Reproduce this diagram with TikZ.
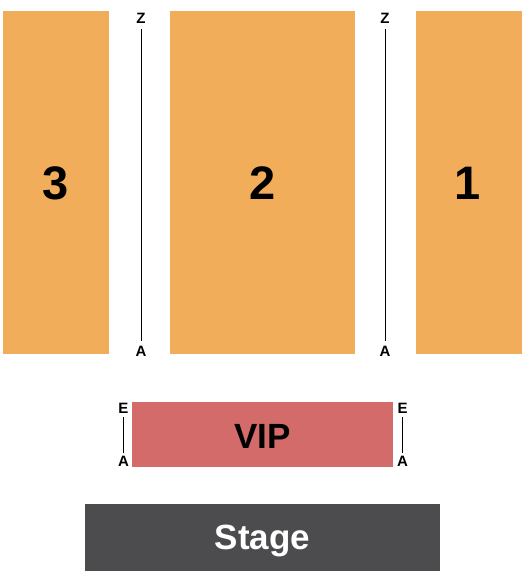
\documentclass[tikz,border=0pt]{standalone}
\usepackage{fontspec}
\setmainfont{Liberation Sans}
\definecolor{secorange}{HTML}{F2AD5B}
\definecolor{vipred}{HTML}{D46B6B}
\definecolor{stagegray}{HTML}{4C4B4E}
\begin{document}
\begin{tikzpicture}[x=1pt,y=-1pt,
  section/.style={fill=secorange,draw=none},
  secnum/.style={font=\bfseries\fontsize{47}{47}\selectfont,text=black},
  rowlbl/.style={font=\bfseries\fontsize{15}{15}\selectfont,text=black,inner sep=0pt},
  aisle/.style={draw=black,line width=0.8pt}]
\useasboundingbox (0,0) rectangle (525,580);
% sections
\fill[section] (3,11) rectangle (109,354);
\fill[section] (170,11) rectangle (355,354);
\fill[section] (416,11) rectangle (522,354);
\node[secnum] (s3) at (56,183) {3};
\node[secnum] (s2) at (263,183) {2};
\node[secnum] (s1) at (468,183) {1};
% aisle row labels
\node[rowlbl] (lz) at (141,18.5) {Z};
\node[rowlbl] (la) at (141,351) {A};
\node[rowlbl] (rz) at (385,18.5) {Z};
\node[rowlbl] (ra) at (385,351) {A};
\draw[aisle] (lz.south) ++(0,5) coordinate (lzt) (la.north) ++(0,-5) coordinate (lab);
\draw[aisle] (lzt) -- (lab);
\draw[aisle] (rz.south) ++(0,5) coordinate (rzt) (ra.north) ++(0,-5) coordinate (rab);
\draw[aisle] (rzt) -- (rab);
% VIP
\fill[vipred] (132,402) rectangle (393,467);
\node[font=\bfseries\fontsize{35}{35}\selectfont] (vip) at (262.5,436) {VIP};
\node[rowlbl] (ve1) at (123.5,408) {E};
\node[rowlbl] (va1) at (123.5,461.5) {A};
\node[rowlbl] (ve2) at (402.5,408) {E};
\node[rowlbl] (va2) at (402.5,461.5) {A};
\draw[aisle] (ve1.south) ++(0,4) coordinate (ve1b) (va1.north) ++(0,-3) coordinate (va1t);
\draw[aisle] (ve1b) -- (va1t);
\draw[aisle] (ve2.south) ++(0,4) coordinate (ve2b) (va2.north) ++(0,-3) coordinate (va2t);
\draw[aisle] (ve2b) -- (va2t);
% Stage
\fill[stagegray] (85,504) rectangle (440,571);
\node[font=\bfseries\fontsize{35}{35}\selectfont,text=white] (stage) at (262.5,541) {Stage};
\end{tikzpicture}
\end{document}
